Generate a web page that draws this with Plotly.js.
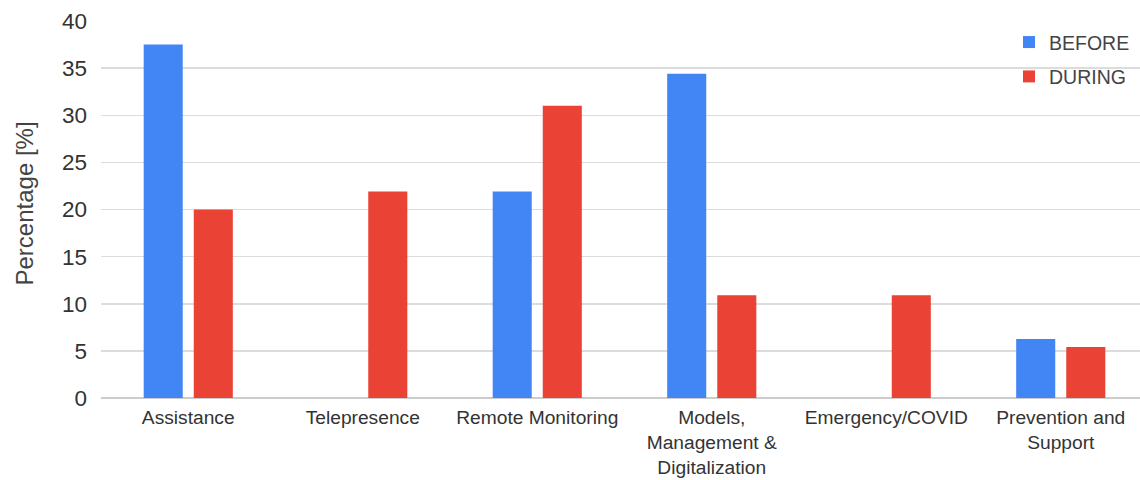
<!DOCTYPE html>
<html>
<head>
<meta charset="utf-8">
<script src="https://cdn.plot.ly/plotly-3.0.1.min.js"></script>
<style>
  html, body { margin: 0; padding: 0; overflow: hidden; background: #fff; }
  #chart { width: 1148px; height: 480px; }
</style>
</head>
<body>
<div id="chart"></div>
<script>
// Share of studies per application area, before and during the pandemic
const categories = [
  "Assistance",
  "Telepresence",
  "Remote Monitoring",
  "Models,<br>Management &<br>Digitalization",
  "Emergency/COVID",
  "Prevention and<br>Support"
];
const before = [37.5, 0, 21.9, 34.4, 0, 6.25];
const during = [20.0, 21.9, 31.0, 10.9, 10.9, 5.4];
const seriesNames = ["BEFORE", "DURING"];
const yTicks = [0, 5, 10, 15, 20, 25, 30, 35, 40];
const yTitle = "Percentage [%]";

const font = "Arial, 'Liberation Sans', sans-serif";

const traces = [
  {
    type: "bar", name: seriesNames[0], x: categories, y: before,
    marker: { color: "#4285F4" }, legendgroup: "a", hoverinfo: "x+y"
  },
  {
    type: "bar", name: seriesNames[1], x: categories, y: during,
    marker: { color: "#EA4335" }, legendgroup: "b", hoverinfo: "x+y"
  }
];

const layout = {
  width: 1148, height: 480,
  margin: { l: 101, r: 0, t: 21, b: 82, pad: 0 },
  paper_bgcolor: "#fff", plot_bgcolor: "#fff",
  barmode: "group", bargap: 0.426, bargroupgap: 0.22,
  font: { family: font, color: "#333" },
  xaxis: {
    showgrid: false, showline: false, zeroline: false, ticks: "",
    tickfont: { size: 19.2, color: "#333" }, ticklabelstandoff: 6,
    automargin: false
  },
  yaxis: {
    range: [0, 40], tickvals: yTicks, ticks: "",
    showgrid: true, gridcolor: "#dcdcdc", gridwidth: 1.5,
    zeroline: true, zerolinecolor: "#cccccc", zerolinewidth: 1.5,
    showline: false, tickfont: { size: 22.5, color: "#333" },
    ticklabelstandoff: 13,
    automargin: false
  },
  // vertical axis title, placed as a rotated annotation left of the tick labels
  annotations: [{
    text: yTitle, textangle: -90, showarrow: false,
    xref: "paper", yref: "paper", x: -0.0735, y: 0.516,
    xanchor: "center", yanchor: "middle",
    font: { size: 24, color: "#444" }
  }],
  legend: {
    x: 0.9876, xref: "paper", xanchor: "right",
    y: 0.995, yanchor: "top",
    font: { size: 19.5, color: "#444" },
    tracegroupgap: 6, bgcolor: "rgba(0,0,0,0)"
  },
  showlegend: true
};

Plotly.newPlot("chart", traces, layout, { displayModeBar: false, staticPlot: true });
</script>
</body>
</html>
